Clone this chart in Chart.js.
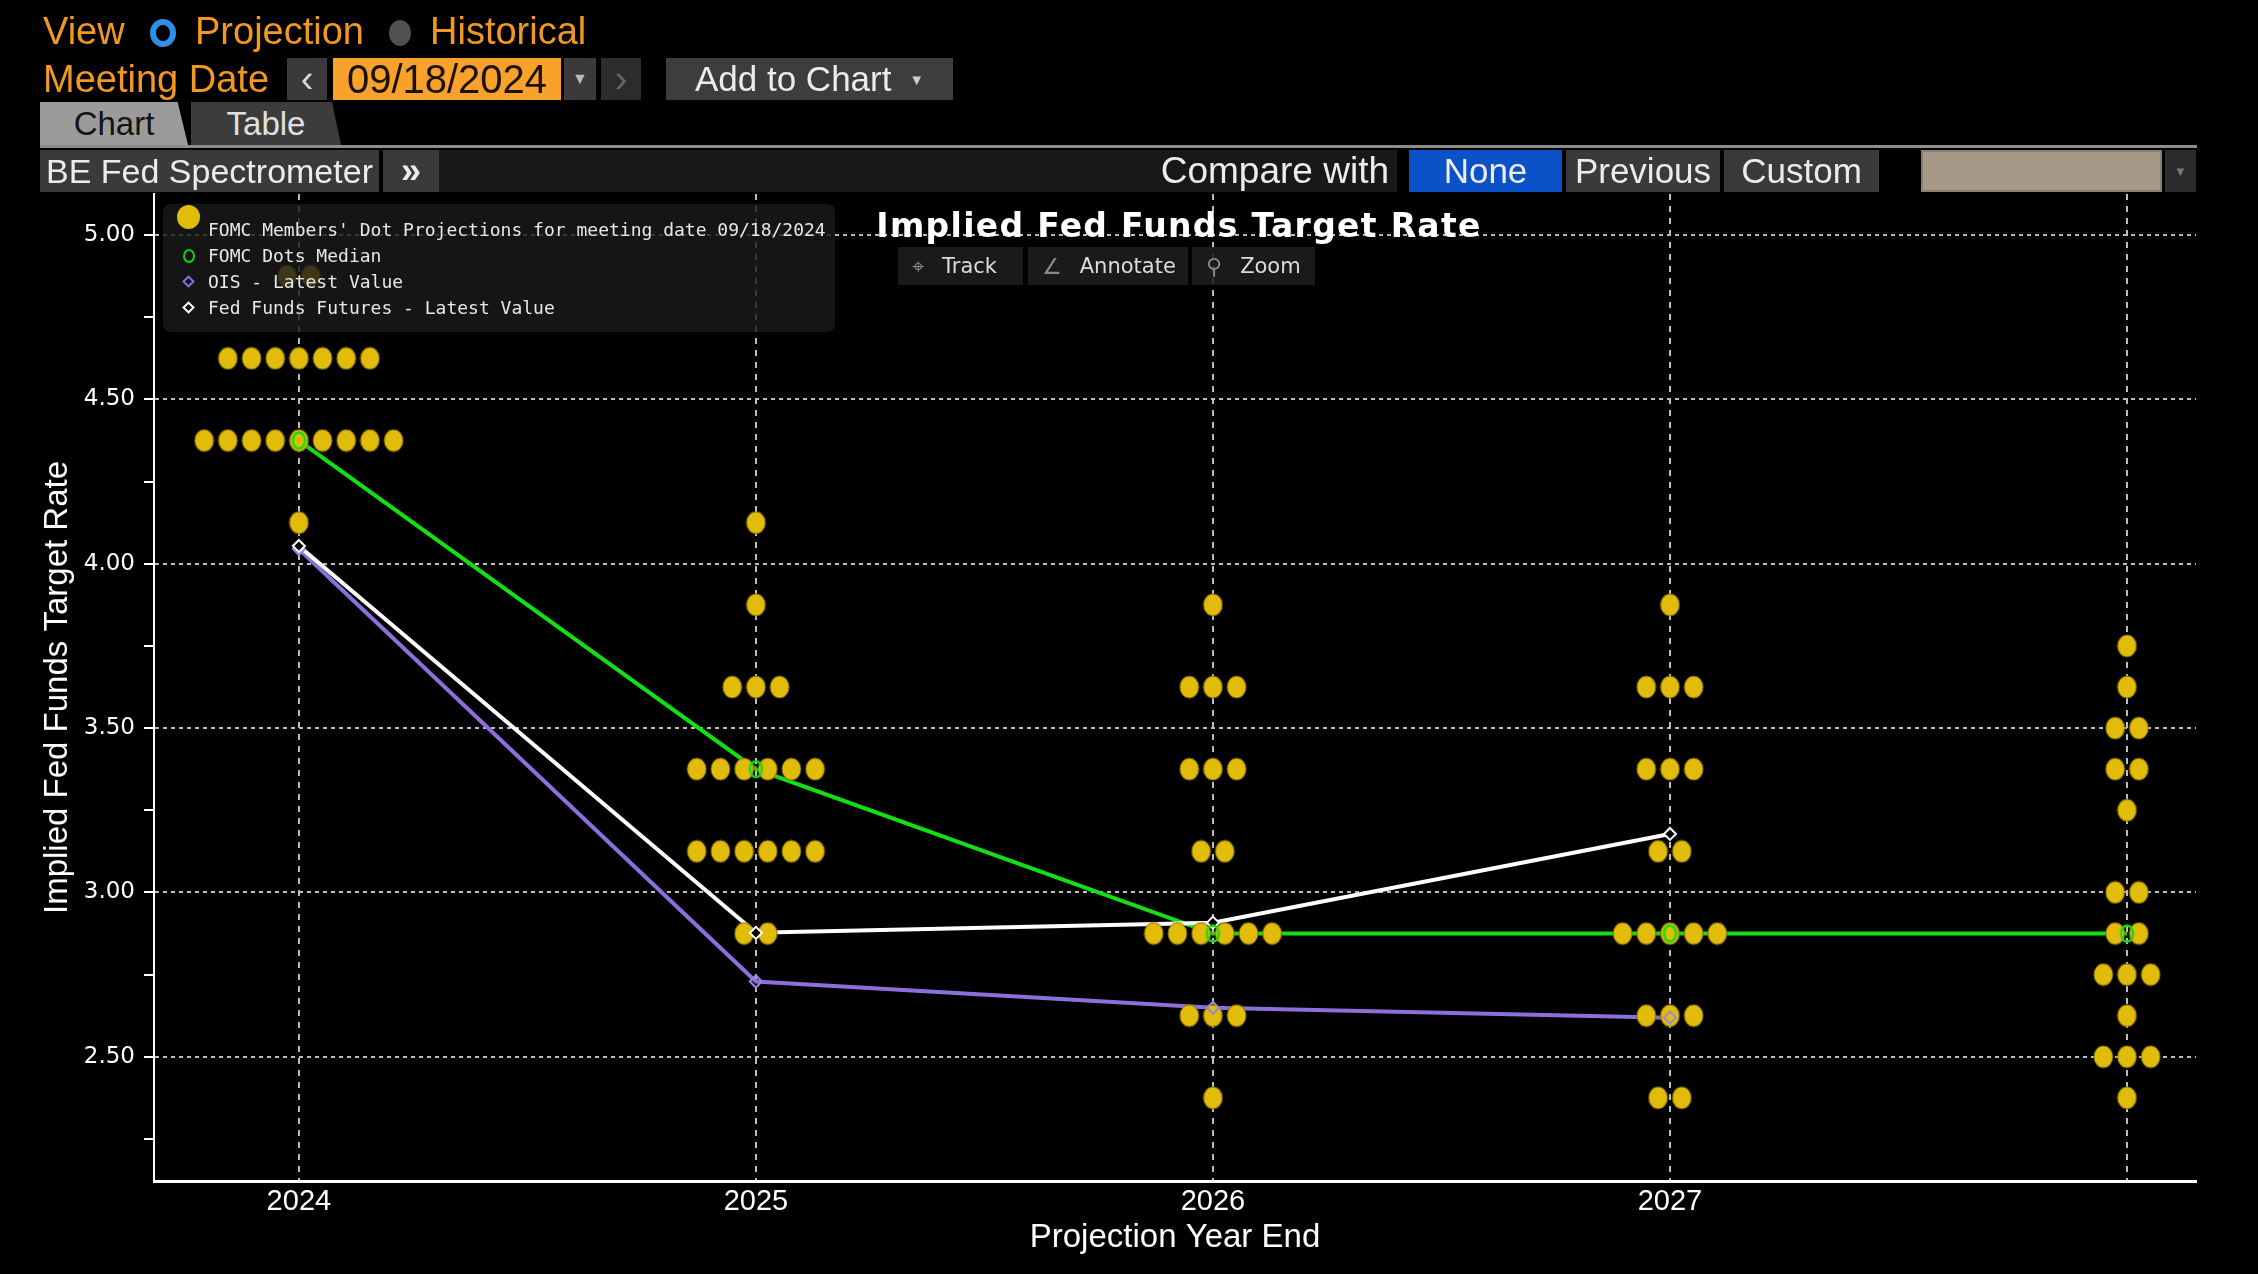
<!DOCTYPE html>
<html>
<head>
<meta charset="utf-8">
<title>BE Fed Spectrometer</title>
<script src="https://cdn.jsdelivr.net/npm/chart.js"></script>
<style>
html, body { margin:0; padding:0; background:#000; width:2258px; height:1274px; overflow:hidden;
  font-family:'Liberation Sans', Arial, sans-serif; }
#wrap { position:relative; width:2258px; height:1274px; }
#myChart { position:absolute; left:0; top:0; }
.abs { position:absolute; white-space:nowrap; }
.or { color:#f2971f; font-size:38px; line-height:1; }
.btn { position:absolute; box-sizing:border-box; display:flex; align-items:center; justify-content:center;
  background:#3a3a3a; color:#ececec; font-size:36px; white-space:nowrap; }
.tab { position:absolute; top:102px; height:43px; box-sizing:border-box; display:flex; align-items:center;
  justify-content:center; font-size:33px; }
#legend { left:163px; top:204px; width:672px; height:128px; background:rgba(26,26,26,0.82); border-radius:8px;
  font-family:'DejaVu Sans Mono', monospace; font-size:18px; color:#e8e8e8; }
#legend .row { position:absolute; left:45px; height:26px; line-height:26px; }
#legend .ic { position:absolute; box-sizing:border-box; }
.tool { position:absolute; top:247px; height:38px; background:rgba(30,30,30,0.88); color:#dcdcdc;
  font-family:'DejaVu Sans', sans-serif; font-size:21px; display:flex; align-items:center; box-sizing:border-box; }
.tool span.i { color:#8a8a8a; margin:0 18px 0 14px; font-size:22px; }
</style>
</head>
<body>
<div id="wrap">
  <canvas id="myChart" width="2258" height="1274"></canvas>

  <!-- header -->
  <div class="abs or" style="left:43px;top:12px;">View</div>
  <div class="abs" style="left:150px;top:19px;width:26px;height:28px;border-radius:50%;border:6px solid #2f8ee6;box-sizing:border-box;"></div>
  <div class="abs or" style="left:195px;top:12px;">Projection</div>
  <div class="abs" style="left:389px;top:20px;width:22px;height:26px;border-radius:50%;background:#505050;"></div>
  <div class="abs or" style="left:430px;top:12px;">Historical</div>

  <div class="abs or" style="left:43px;top:60px;">Meeting Date</div>
  <div class="btn" style="left:287px;top:58px;width:40px;height:42px;font-size:38px;color:#d8d8d8;">&lsaquo;</div>
  <div class="btn" style="left:333px;top:58px;width:228px;height:42px;background:#f8a12b;color:#1b1100;font-size:40px;">09/18/2024</div>
  <div class="btn" style="left:564px;top:58px;width:32px;height:42px;font-size:16px;color:#bbb;">&#9660;</div>
  <div class="btn" style="left:601px;top:58px;width:40px;height:42px;background:#2c2c2c;color:#666;font-size:38px;">&rsaquo;</div>
  <div class="btn" style="left:666px;top:58px;width:287px;height:42px;background:#3d3d3d;font-size:35px;">Add to Chart&nbsp;<span style="font-size:15px;color:#ccc;margin-left:8px;">&#9660;</span></div>

  <div class="tab" style="left:40px;width:148px;background:#9b9b9b;color:#141414;clip-path:polygon(0 0,93% 0,100% 100%,0 100%);">Chart</div>
  <div class="tab" style="left:191px;width:150px;background:#3c3c3c;color:#e0e0e0;clip-path:polygon(0 0,94% 0,100% 100%,0 100%);">Table</div>
  <div class="abs" style="left:40px;top:145px;width:2157px;height:3px;background:#8c8c8c;"></div>

  <div class="abs" style="left:439px;top:150px;width:958px;height:42px;background:#181818;"></div>
  <div class="btn" style="left:40px;top:150px;width:339px;height:42px;font-size:34px;">BE Fed Spectrometer</div>
  <div class="btn" style="left:383px;top:150px;width:56px;height:42px;font-size:36px;font-weight:bold;">&raquo;</div>
  <div class="abs" style="left:1100px;top:150px;width:289px;height:42px;line-height:42px;text-align:right;color:#ececec;font-size:37px;">Compare with</div>
  <div class="btn" style="left:1409px;top:150px;width:153px;height:42px;background:#0b52c8;font-size:35px;">None</div>
  <div class="btn" style="left:1566px;top:150px;width:154px;height:42px;font-size:35px;">Previous</div>
  <div class="btn" style="left:1724px;top:150px;width:155px;height:42px;font-size:35px;">Custom</div>
  <div class="abs" style="left:1921px;top:150px;width:241px;height:42px;background:#a69886;border:2px solid #8b7f70;box-sizing:border-box;"></div>
  <div class="btn" style="left:2165px;top:150px;width:31px;height:42px;background:#2b2b2b;font-size:13px;color:#777;">&#9660;</div>

  <!-- chart overlays -->
  <div class="abs" style="left:829px;top:209px;width:700px;text-align:center;color:#fff;font-family:'DejaVu Sans',sans-serif;font-weight:bold;font-size:33px;line-height:1;letter-spacing:1.3px;">Implied Fed Funds Target Rate</div>

  <div class="tool" style="left:898px;width:125px;"><span class="i">&#8982;</span>Track</div>
  <div class="tool" style="left:1028px;width:160px;"><span class="i">&#8736;</span>Annotate</div>
  <div class="tool" style="left:1192px;width:123px;"><span class="i">&#9906;</span>Zoom</div>

  <div id="legend" class="abs">
    <div class="ic" style="left:14px;top:1px;width:23px;height:24px;border-radius:50%;background:#e2bc0a;"></div>
    <div class="ic" style="left:20px;top:45px;width:12px;height:14px;border-radius:50%;border:2px solid #10d010;"></div>
    <div class="ic" style="left:21px;top:73px;width:9px;height:9px;border:2px solid #8d6fdc;transform:rotate(45deg);"></div>
    <div class="ic" style="left:21px;top:99px;width:9px;height:9px;border:2px solid #fff;transform:rotate(45deg);"></div>
    <div class="row" style="top:13px;">FOMC Members' Dot Projections for meeting date 09/18/2024</div>
    <div class="row" style="top:39px;">FOMC Dots Median</div>
    <div class="row" style="top:65px;">OIS - Latest Value</div>
    <div class="row" style="top:91px;">Fed Funds Futures - Latest Value</div>
  </div>
</div>

<script>
// projection years (last column = longer run, no label)
var yearLabels = ["2024", "2025", "2026", "2027", ""];

// each FOMC participant's dot, per column
var dots2024 = [4.875, 4.875,
  4.625, 4.625, 4.625, 4.625, 4.625, 4.625, 4.625,
  4.375, 4.375, 4.375, 4.375, 4.375, 4.375, 4.375, 4.375, 4.375,
  4.125];
var dots2025 = [4.125, 3.875, 3.625, 3.625, 3.625,
  3.375, 3.375, 3.375, 3.375, 3.375, 3.375,
  3.125, 3.125, 3.125, 3.125, 3.125, 3.125,
  2.875, 2.875];
var dots2026 = [3.875, 3.625, 3.625, 3.625, 3.375, 3.375, 3.375, 3.125, 3.125,
  2.875, 2.875, 2.875, 2.875, 2.875, 2.875,
  2.625, 2.625, 2.625, 2.375];
var dots2027 = [3.875, 3.625, 3.625, 3.625, 3.375, 3.375, 3.375, 3.125, 3.125,
  2.875, 2.875, 2.875, 2.875, 2.875,
  2.625, 2.625, 2.625, 2.375, 2.375];
var dotsLonger = [3.75, 3.625, 3.5, 3.5, 3.375, 3.375, 3.25, 3.0, 3.0, 2.875, 2.875,
  2.75, 2.75, 2.75, 2.625, 2.5, 2.5, 2.5, 2.375];

var medianDots = [4.375, 3.375, 2.875, 2.875, 2.875];
var oisLatest = [4.045, 2.729, 2.649, 2.619];
var fffLatest = [4.054, 2.877, 2.908, 3.178];

var dotStep = 0.0518; // horizontal gap between dots on the same level

function layoutDots(col, values) {
  var counts = {};
  values.forEach(function (v) { counts[v] = (counts[v] || 0) + 1; });
  var pts = [];
  Object.keys(counts).forEach(function (k) {
    var n = counts[k];
    for (var j = 0; j < n; j++) pts.push({ x: col + (j - (n - 1) / 2) * dotStep, y: +k });
  });
  return pts;
}

function toPoints(vals) {
  return vals.map(function (v, i) { return { x: i, y: v }; });
}

function ellipseImg(w, h, fill, stroke, lw) {
  var c = document.createElement('canvas');
  c.width = w; c.height = h;
  var g = c.getContext('2d');
  g.beginPath();
  g.ellipse(w / 2, h / 2, w / 2 - lw, h / 2 - lw, 0, 0, Math.PI * 2);
  if (fill) { g.fillStyle = fill; g.fill(); }
  if (stroke) { g.lineWidth = lw; g.strokeStyle = stroke; g.stroke(); }
  return c;
}

var allDots = [].concat(
  layoutDots(0, dots2024), layoutDots(1, dots2025), layoutDots(2, dots2026),
  layoutDots(3, dots2027), layoutDots(4, dotsLonger));

var green = '#12e012', purple = '#8d6fdc', white = '#ffffff', gold = '#e2bc0a';
var gridCol = '#bdbdbd';

var ctx = document.getElementById('myChart').getContext('2d');
var myChart = new Chart(ctx, {
  type: 'scatter',
  data: {
    datasets: [
      { data: toPoints(medianDots), showLine: true, borderColor: green, borderWidth: 4, pointRadius: 0, order: 5 },
      { data: toPoints(oisLatest), showLine: true, borderColor: purple, borderWidth: 4, pointRadius: 0, order: 5 },
      { data: toPoints(fffLatest), showLine: true, borderColor: white, borderWidth: 4, pointRadius: 0, order: 4 },
      { data: allDots, pointStyle: ellipseImg(21, 24, gold, 'rgba(120,95,0,0.9)', 1), order: 3 },
      { data: toPoints(medianDots), pointStyle: ellipseImg(17, 21, null, green, 2.5), order: 1 },
      { data: toPoints(oisLatest), pointStyle: 'rectRot', pointRadius: 6, borderWidth: 2,
        borderColor: '#9c84e0', backgroundColor: 'rgba(0,0,0,0)', order: 2 },
      { data: toPoints(fffLatest), pointStyle: 'rectRot', pointRadius: 6, borderWidth: 2,
        borderColor: white, backgroundColor: '#000', order: 1 }
    ]
  },
  options: {
    responsive: false,
    animation: false,
    events: [],
    layout: { padding: { top: 194, right: 62, left: 0, bottom: 0 } },
    plugins: { legend: { display: false }, tooltip: { enabled: false } },
    scales: {
      x: {
        type: 'linear', min: -0.317, max: 4.151,
        afterFit: function (s) { s.height = 93; },
        ticks: {
          stepSize: 1, includeBounds: false, autoSkip: false, maxRotation: 0, padding: 4,
          color: '#fff', font: { family: "'Liberation Sans Narrow', 'Liberation Sans', sans-serif", size: 29 },
          callback: function (v) { return yearLabels[v] !== undefined ? yearLabels[v] : ''; }
        },
        grid: { color: gridCol, lineWidth: 2, drawTicks: false },
        border: { color: '#fff', width: 3, dash: [6, 6] },
        title: { display: true, text: 'Projection Year End', color: '#fff',
          font: { family: "'Liberation Sans', sans-serif", size: 33 }, padding: { top: 0, bottom: 16 } }
      },
      y: {
        min: 2.122, max: 5.125,
        afterFit: function (s) { s.width = 154; },
        ticks: {
          stepSize: 0.25, includeBounds: false, padding: 9, color: '#fff',
          font: { family: "'DejaVu Sans', sans-serif", size: 23 },
          callback: function (v) { return (Math.round(v * 100) % 50 === 0) ? v.toFixed(2) : ''; }
        },
        grid: {
          lineWidth: 2, tickLength: 10, tickColor: '#fff',
          color: function (c) { return (c.tick && Math.round(c.tick.value * 100) % 50 === 0) ? gridCol : 'rgba(0,0,0,0)'; }
        },
        border: { color: '#fff', width: 2, dash: [4, 4] },
        title: { display: true, text: 'Implied Fed Funds Target Rate', color: '#fff',
          font: { family: "'Liberation Sans', sans-serif", size: 33 }, padding: { top: 38, bottom: 0 } }
      }
    }
  }
});
</script>
</body>
</html>
